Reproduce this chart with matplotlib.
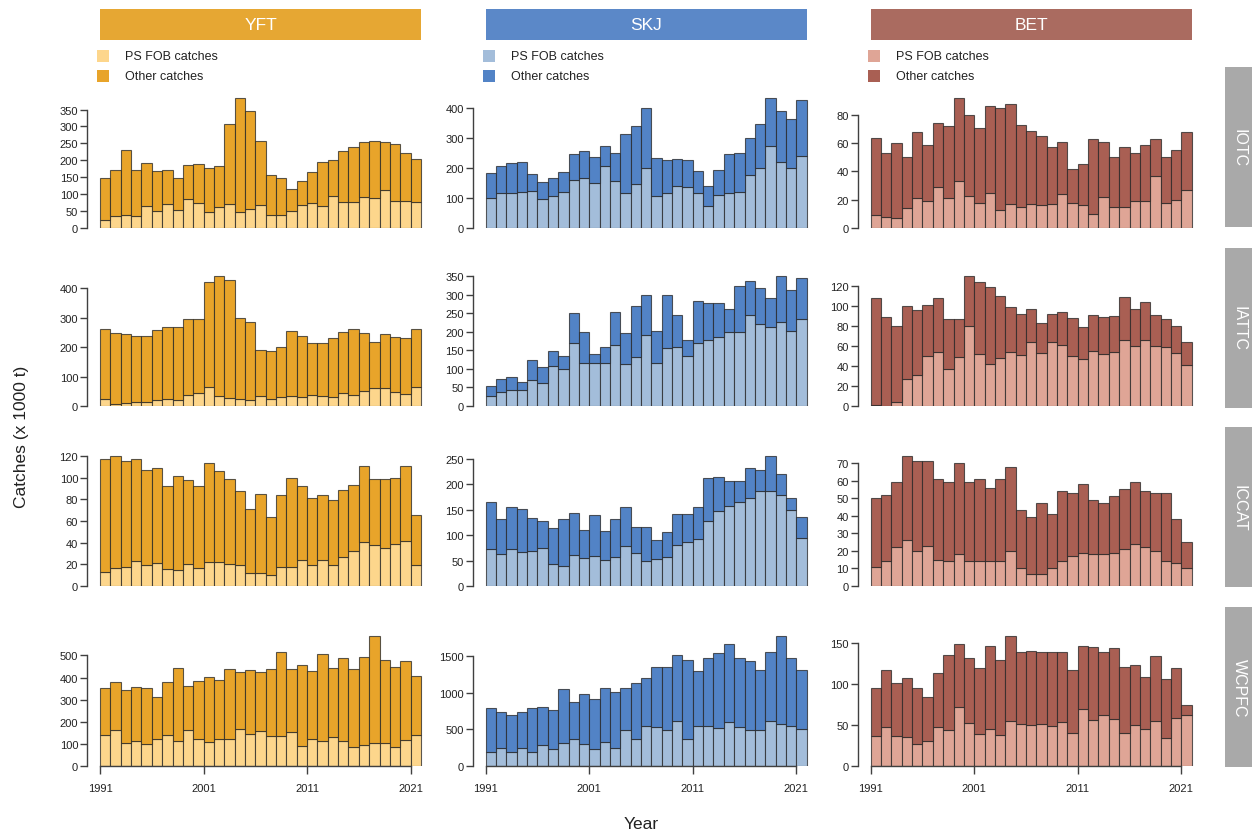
import numpy as np
import matplotlib
matplotlib.use("Agg")
import matplotlib.pyplot as plt
from matplotlib.patches import Rectangle

plt.rcParams['font.family'] = ['Liberation Sans', 'DejaVu Sans']

years = list(range(1991, 2022))
species = ["YFT", "SKJ", "BET"]
regions = ["IOTC", "IATTC", "ICCAT", "WCPFC"]
legend_labels = ["PS FOB catches", "Other catches"]
xtick_years = [1991, 2001, 2011, 2021]

# ---- data (x 1000 t): total catches and PS FOB catches ----
yft_iotc_total = [149,171,230,171,192,167,170,149,185,189,178,184,306,384,345,256,157,148,116,138,166,196,200,226,238,255,256,253,249,223,203]
yft_iotc_fob = [23,35,38,35,66,50,71,53,85,75,47,61,71,47,56,67,39,38,50,67,74,64,95,78,76,92,89,111,80,80,76]
skj_iotc_total = [184,205,215,221,179,154,168,187,246,256,238,272,249,312,341,399,234,225,230,225,189,139,192,246,250,300,346,433,391,363,425]
skj_iotc_fob = [99,116,116,119,124,96,107,119,159,167,150,206,155,116,145,199,107,115,141,136,115,74,110,116,119,175,199,274,221,199,240]
bet_iotc_total = [64,53,60,50,68,59,74,72,92,80,71,86,85,88,73,69,65,57,61,42,45,63,61,50,57,53,59,63,50,55,68]
bet_iotc_fob = [9,8,7,14,21,19,29,21,33,23,18,25,13,17,15,17,16,17,24,18,16,10,22,15,15,19,19,37,18,20,27]

yft_iattc_total = [260,246,244,236,239,257,269,267,295,295,422,441,428,299,284,190,186,201,254,237,215,215,229,251,260,246,216,244,234,229,262]
yft_iattc_fob = [23,8,11,15,15,21,25,21,39,44,64,34,26,25,22,34,25,30,34,30,39,34,30,43,38,52,60,60,47,40,63]
skj_iattc_total = [55,74,77,65,125,104,149,134,250,200,139,159,254,196,268,300,202,300,245,179,283,278,276,261,323,336,318,292,350,312,344]
skj_iattc_fob = [28,38,43,42,71,62,107,99,170,117,117,117,163,112,131,191,115,156,160,134,170,179,186,198,198,245,220,213,227,202,235]
bet_iattc_total = [108,89,80,100,96,101,108,87,87,130,124,119,110,99,92,97,83,92,94,88,79,91,89,90,109,97,104,91,87,80,64]
bet_iattc_fob = [1,0.5,4,27,31,50,54,37,49,80,52,42,48,54,51,64,53,64,61,50,47,55,52,54,66,60,66,60,59,53,41]

yft_iccat_total = [117,120,115,117,107,109,92,102,98,92,114,106,99,88,71,85,64,84,100,92,81,84,79,89,93,111,99,99,100,111,66]
yft_iccat_fob = [13,17,18,23,19,21,16,15,20,17,22,22,20,19,12,12,10,18,18,24,19,24,19,27,32,41,38,35,39,42,19]
skj_iccat_total = [165,131,155,151,133,128,115,132,144,110,139,108,131,156,116,117,91,107,141,141,155,212,214,206,206,232,228,256,220,174,136]
skj_iccat_fob = [72,64,72,66,69,75,43,40,61,56,60,52,58,79,65,49,54,57,80,87,92,128,147,157,165,174,188,188,179,149,94]
bet_iccat_total = [50,52,59,74,71,71,61,59,70,59,61,56,61,68,43,39,47,41,54,53,58,49,47,51,55,59,54,53,53,38,25]
bet_iccat_fob = [11,14,22,26,20,23,15,14,18,14,14,14,14,20,10,7,7,10,14,17,19,18,18,19,21,24,22,20,14,13,10]

yft_wcpfc_total = [352,382,344,359,353,311,382,442,364,386,402,388,441,427,436,426,439,515,439,455,430,505,445,488,439,491,588,480,447,474,406]
yft_wcpfc_fob = [139,162,106,112,100,124,139,112,162,124,109,124,121,167,147,158,136,136,152,91,121,112,129,114,86,95,106,106,86,118,139]
skj_wcpfc_total = [798,734,697,743,794,807,766,1055,876,982,917,1069,1014,1064,1142,1202,1353,1353,1514,1454,1298,1477,1546,1674,1472,1440,1317,1560,1780,1472,1321]
skj_wcpfc_fob = [197,252,197,252,197,289,239,321,367,307,229,335,243,491,367,541,532,495,619,367,541,550,523,596,528,495,491,619,573,541,500]
bet_wcpfc_total = [95,117,102,108,96,85,114,136,149,132,120,147,130,159,140,141,140,140,140,118,147,145,140,144,121,124,109,134,107,120,75]
bet_wcpfc_fob = [37,48,37,35,27,31,48,44,72,53,39,45,38,55,51,50,51,49,54,40,70,56,62,58,40,50,45,55,34,59,62]

panels = {
    ("IOTC", "YFT"): (yft_iotc_fob, yft_iotc_total, 50),
    ("IOTC", "SKJ"): (skj_iotc_fob, skj_iotc_total, 100),
    ("IOTC", "BET"): (bet_iotc_fob, bet_iotc_total, 20),
    ("IATTC", "YFT"): (yft_iattc_fob, yft_iattc_total, 100),
    ("IATTC", "SKJ"): (skj_iattc_fob, skj_iattc_total, 50),
    ("IATTC", "BET"): (bet_iattc_fob, bet_iattc_total, 20),
    ("ICCAT", "YFT"): (yft_iccat_fob, yft_iccat_total, 20),
    ("ICCAT", "SKJ"): (skj_iccat_fob, skj_iccat_total, 50),
    ("ICCAT", "BET"): (bet_iccat_fob, bet_iccat_total, 10),
    ("WCPFC", "YFT"): (yft_wcpfc_fob, yft_wcpfc_total, 100),
    ("WCPFC", "SKJ"): (skj_wcpfc_fob, skj_wcpfc_total, 500),
    ("WCPFC", "BET"): (bet_wcpfc_fob, bet_wcpfc_total, 50),
}

colors = {
    "YFT": {"fob": "#FDD68C", "other": "#E8A42A", "strip": "#E6A733"},
    "SKJ": {"fob": "#A3BDDA", "other": "#5283C6", "strip": "#5B88C8"},
    "BET": {"fob": "#DFA596", "other": "#A95F53", "strip": "#AA6B60"},
}
gray_strip = "#A9A9A9"
edge = (0.15, 0.15, 0.15, 0.75)
axis_col = "#404040"

W, H = 1252, 837
fig = plt.figure(figsize=(W / 100, H / 100), dpi=100)


def frect(l, t, w, h):
    return [l / W, 1 - (t + h) / H, w / W, h / H]


col_left = [87.2, 472.9, 857.9]
col_width = 346.6
bar_left = [100, 485.7, 870.7]
row_base = [229, 407, 587, 767]
bar_span = 130.0
ax_h = 134.0

n = len(years)
idx = np.arange(n)
xlim = (-0.04 * n, n * 1.04)

for r, reg in enumerate(regions):
    for c, sp in enumerate(species):
        fob, total, step = panels[(reg, sp)]
        fob = np.array(fob, dtype=float)
        total = np.array(total, dtype=float)
        other = total - fob
        ax = fig.add_axes(frect(col_left[c], row_base[r] - ax_h, col_width, ax_h))
        ax.bar(idx, fob, width=1, align='edge', color=colors[sp]["fob"],
               edgecolor=edge, linewidth=0.8)
        ax.bar(idx, other, width=1, align='edge', bottom=fob,
               color=colors[sp]["other"], edgecolor=edge, linewidth=0.8)
        ytop = total.max() * ax_h / bar_span
        ax.set_xlim(*xlim)
        ax.set_ylim(0, ytop)
        ticks = np.arange(0, total.max() + 1e-9, step)
        ax.set_yticks(ticks)
        ax.set_yticklabels([f"{int(t)}" for t in ticks])
        for s in ["top", "right"]:
            ax.spines[s].set_visible(False)
        ax.spines["left"].set_bounds(0, ticks[-1])
        ax.spines["left"].set_color(axis_col)
        ax.spines["left"].set_linewidth(1.0)
        ax.tick_params(axis='y', length=5, width=1.0, color=axis_col, pad=1.5,
                       labelsize=8, labelcolor="#222222")
        if r == len(regions) - 1:
            pos = [years.index(y) for y in xtick_years]
            ax.set_xticks(pos)
            ax.set_xticklabels([str(y) for y in xtick_years])
            ax.spines["bottom"].set_bounds(pos[0], pos[-1])
            ax.spines["bottom"].set_color(axis_col)
            ax.spines["bottom"].set_linewidth(1.0)
            ax.tick_params(axis='x', length=6, width=1.0, color=axis_col, pad=6,
                           labelsize=8, labelcolor="#222222")
        else:
            ax.spines["bottom"].set_visible(False)
            ax.set_xticks([])

# header strips and legends
for c, sp in enumerate(species):
    fig.add_artist(Rectangle((bar_left[c] / W, 1 - 41 / H), 321 / W, 31 / H,
                             transform=fig.transFigure, color=colors[sp]["strip"], lw=0))
    fig.text((bar_left[c] + 160.5) / W, 1 - 25.5 / H, sp, ha='center', va='center',
             color='white', fontsize=12.5)
    for k, (lab, key) in enumerate(zip(legend_labels, ["fob", "other"])):
        yc = 57 + 20 * k
        fig.add_artist(Rectangle(((bar_left[c] - 3) / W, 1 - (yc + 6) / H), 12 / W, 12 / H,
                                 transform=fig.transFigure, color=colors[sp][key], lw=0))
        fig.text((bar_left[c] + 25) / W, 1 - yc / H, lab, ha='left', va='center',
                 fontsize=9, color="#222222")

# right region strips
strip_tops = [68, 249, 428, 608]
for reg, t in zip(regions, strip_tops):
    fig.add_artist(Rectangle((1225 / W, 1 - (t + 160) / H), 27 / W, 160 / H,
                             transform=fig.transFigure, color=gray_strip, lw=0))
    fig.text(1239 / W, 1 - (t + 80) / H, reg, rotation=270, ha='center', va='center',
             color='white', fontsize=11.5)

fig.text(22 / W, 1 - 437 / H, "Catches (x 1000 t)", rotation=90, ha='center',
         va='center', fontsize=12.5, color="#222222")
fig.text(641 / W, 1 - 825 / H, "Year", ha='center', va='center', fontsize=12.5,
         color="#222222")

fig.savefig("out.png", dpi=100)
